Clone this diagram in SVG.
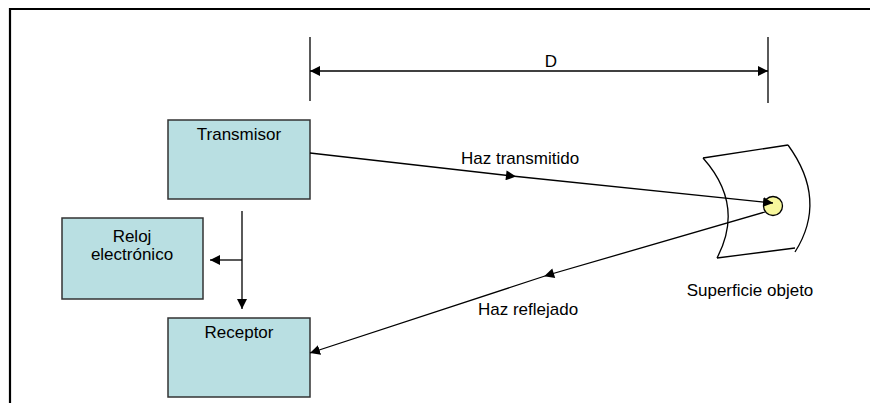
<svg xmlns="http://www.w3.org/2000/svg" width="870" height="403" viewBox="0 0 870 403">
<defs>
<style>
.box{fill:#b9dfe2;stroke:#333;stroke-width:1.5}
.t{font-family:"Liberation Sans",Arial,sans-serif;font-size:17px;fill:#000}
.c{text-anchor:middle}
.ln{stroke:#000;stroke-width:1.3;fill:none}
</style>
<marker id="ah" viewBox="0 0 10 10" refX="10" refY="5" markerWidth="10" markerHeight="10" markerUnits="userSpaceOnUse" orient="auto-start-reverse">
<path d="M0,0 L10,5 L0,10 z" fill="#000"/>
</marker>
<marker id="am" viewBox="0 0 10 10" refX="6" refY="5" markerWidth="11" markerHeight="10" markerUnits="userSpaceOnUse" orient="auto">
<path d="M0,0 L10,5 L0,10 z" fill="#000"/>
</marker>
</defs>
<rect width="870" height="403" fill="#fff"/>
<path d="M10,403 V9 H870" fill="none" stroke="#000" stroke-width="2.2"/>
<g id="dimension">
<line x1="310" y1="37" x2="310" y2="101" class="ln"/>
<line x1="768" y1="37" x2="768" y2="103" class="ln"/>
<line x1="310" y1="71" x2="768" y2="71" class="ln" marker-start="url(#ah)" marker-end="url(#ah)"/>
<text x="551" y="67" class="t c">D</text>
</g>
<g id="transmisor">
<rect x="168" y="120" width="142" height="79" class="box"/>
<text x="239" y="140" class="t c">Transmisor</text>
</g>
<g id="reloj">
<rect x="62" y="218" width="141" height="81" class="box"/>
<text x="132" y="242" class="t c">Reloj</text>
<text x="132" y="260" class="t c">electrónico</text>
</g>
<g id="receptor">
<rect x="168" y="318" width="142" height="79" class="box"/>
<text x="239" y="338" class="t c">Receptor</text>
</g>
<g id="superficie">
<path d="M703,158 L788,145" class="ln"/>
<path d="M717,258 L795,248" class="ln"/>
<path d="M703,158 Q745,205 717,258" class="ln"/>
<path d="M788,145 Q828,200 795,252" class="ln"/>
<circle cx="773" cy="206" r="9.5" fill="#f7f79c" stroke="#000" stroke-width="1.3"/>
<text x="750" y="296" class="t c">Superficie objeto</text>
</g>
<g id="connectors">
<path d="M310,153 L512,176 L773,203" class="ln" marker-mid="url(#am)" marker-end="url(#ah)"/>
<text x="461" y="164" class="t">Haz transmitido</text>
<path d="M765,212 L548,275 L310,353" class="ln" marker-mid="url(#am)" marker-end="url(#ah)"/>
<text x="478" y="315" class="t">Haz reflejado</text>
<line x1="242" y1="211" x2="242" y2="309" class="ln" marker-end="url(#ah)"/>
<line x1="242" y1="260" x2="210" y2="260" class="ln" marker-end="url(#ah)"/>
</g>
</svg>
